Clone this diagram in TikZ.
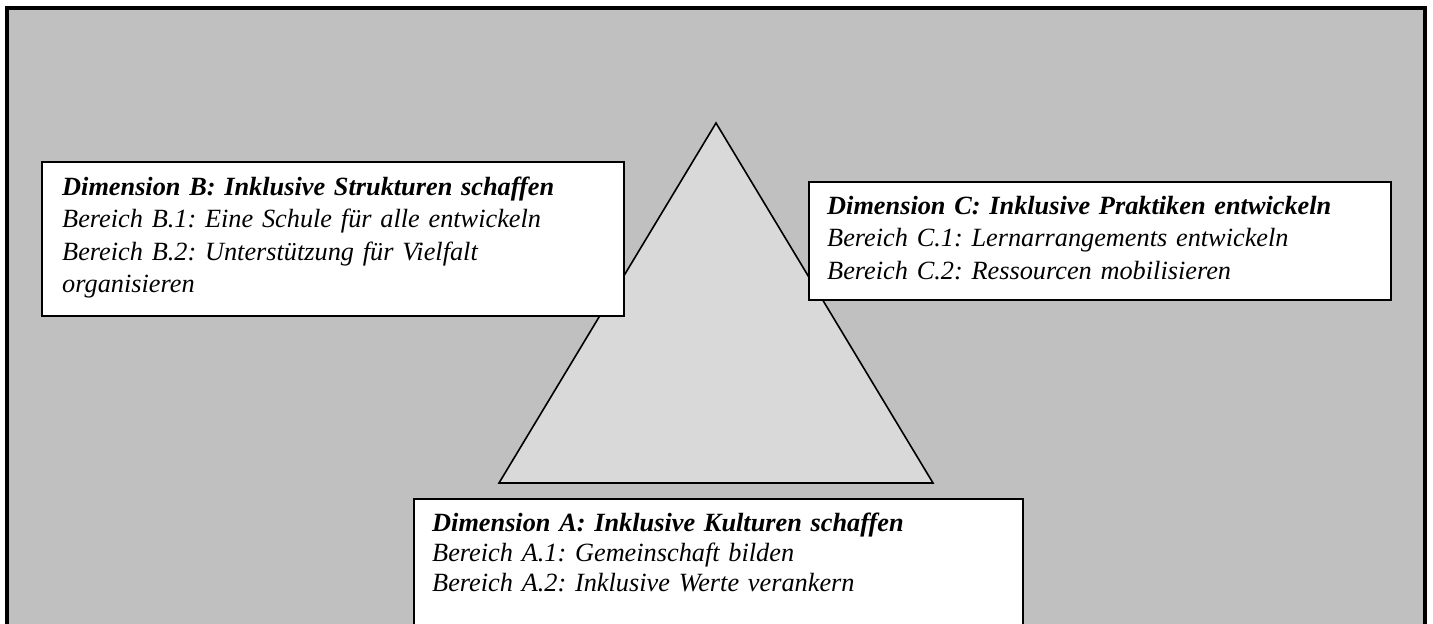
\documentclass[tikz,border=0pt]{standalone}
\usepackage{fontspec}
\setmainfont{Liberation Serif}
\frenchspacing
\definecolor{bggray}{HTML}{C0C0C0}
\definecolor{trigray}{HTML}{D9D9D9}
\tikzset{
  x=1pt, y=-1pt,
  box/.style={draw=black, line width=2pt, fill=white, rectangle, inner sep=0pt, anchor=north west},
  txt/.style={anchor=base west, inner sep=0pt, text width=600pt, align=left,
    font=\fontsize{26.3}{32.5}\selectfont\itshape\frenchspacing},
  txta/.style={txt, font=\fontsize{26.3}{30}\selectfont\itshape\frenchspacing},
  tri/.style={draw=black, line width=1.6pt, fill=trigray, line join=miter},
}
\begin{document}
\begin{tikzpicture}
\path[use as bounding box, clip] (0,0) rectangle (1433,624);
\fill[white] (0,0) rectangle (1433,624);
\draw[line width=4pt, fill=bggray] (7,8) rectangle (1425,680);
% triangle
\coordinate (apex) at (716,123);
\coordinate (bl) at (499,483);
\coordinate (br) at (933,483);
\draw[tri] (apex) -- (bl) -- (br) -- cycle;
% boxes
\node[box, minimum width=582pt, minimum height=154pt] (B) at (41,161) {};
\node[box, minimum width=582pt, minimum height=118pt] (C) at (808,181) {};
\node[box, minimum width=609pt, minimum height=160pt] (A) at (413,498) {};
% texts
\node[txt] (Bt) at (62,195) {\textbf{Dimension B: Inklusive Strukturen schaffen}\\
Bereich B.1: Eine Schule für alle entwickeln\\
Bereich B.2: Unterstützung für Vielfalt\\
organisieren};
\node[txt] (Ct) at (827,214) {\textbf{Dimension C: Inklusive Praktiken entwickeln}\\
Bereich C.1: Lernarrangements entwickeln\\
Bereich C.2: Ressourcen mobilisieren};
\node[txta] (At) at (432,531) {\textbf{Dimension A: Inklusive Kulturen schaffen}\\
Bereich A.1: Gemeinschaft bilden\\
Bereich A.2: Inklusive Werte verankern};
\end{tikzpicture}
\end{document}
